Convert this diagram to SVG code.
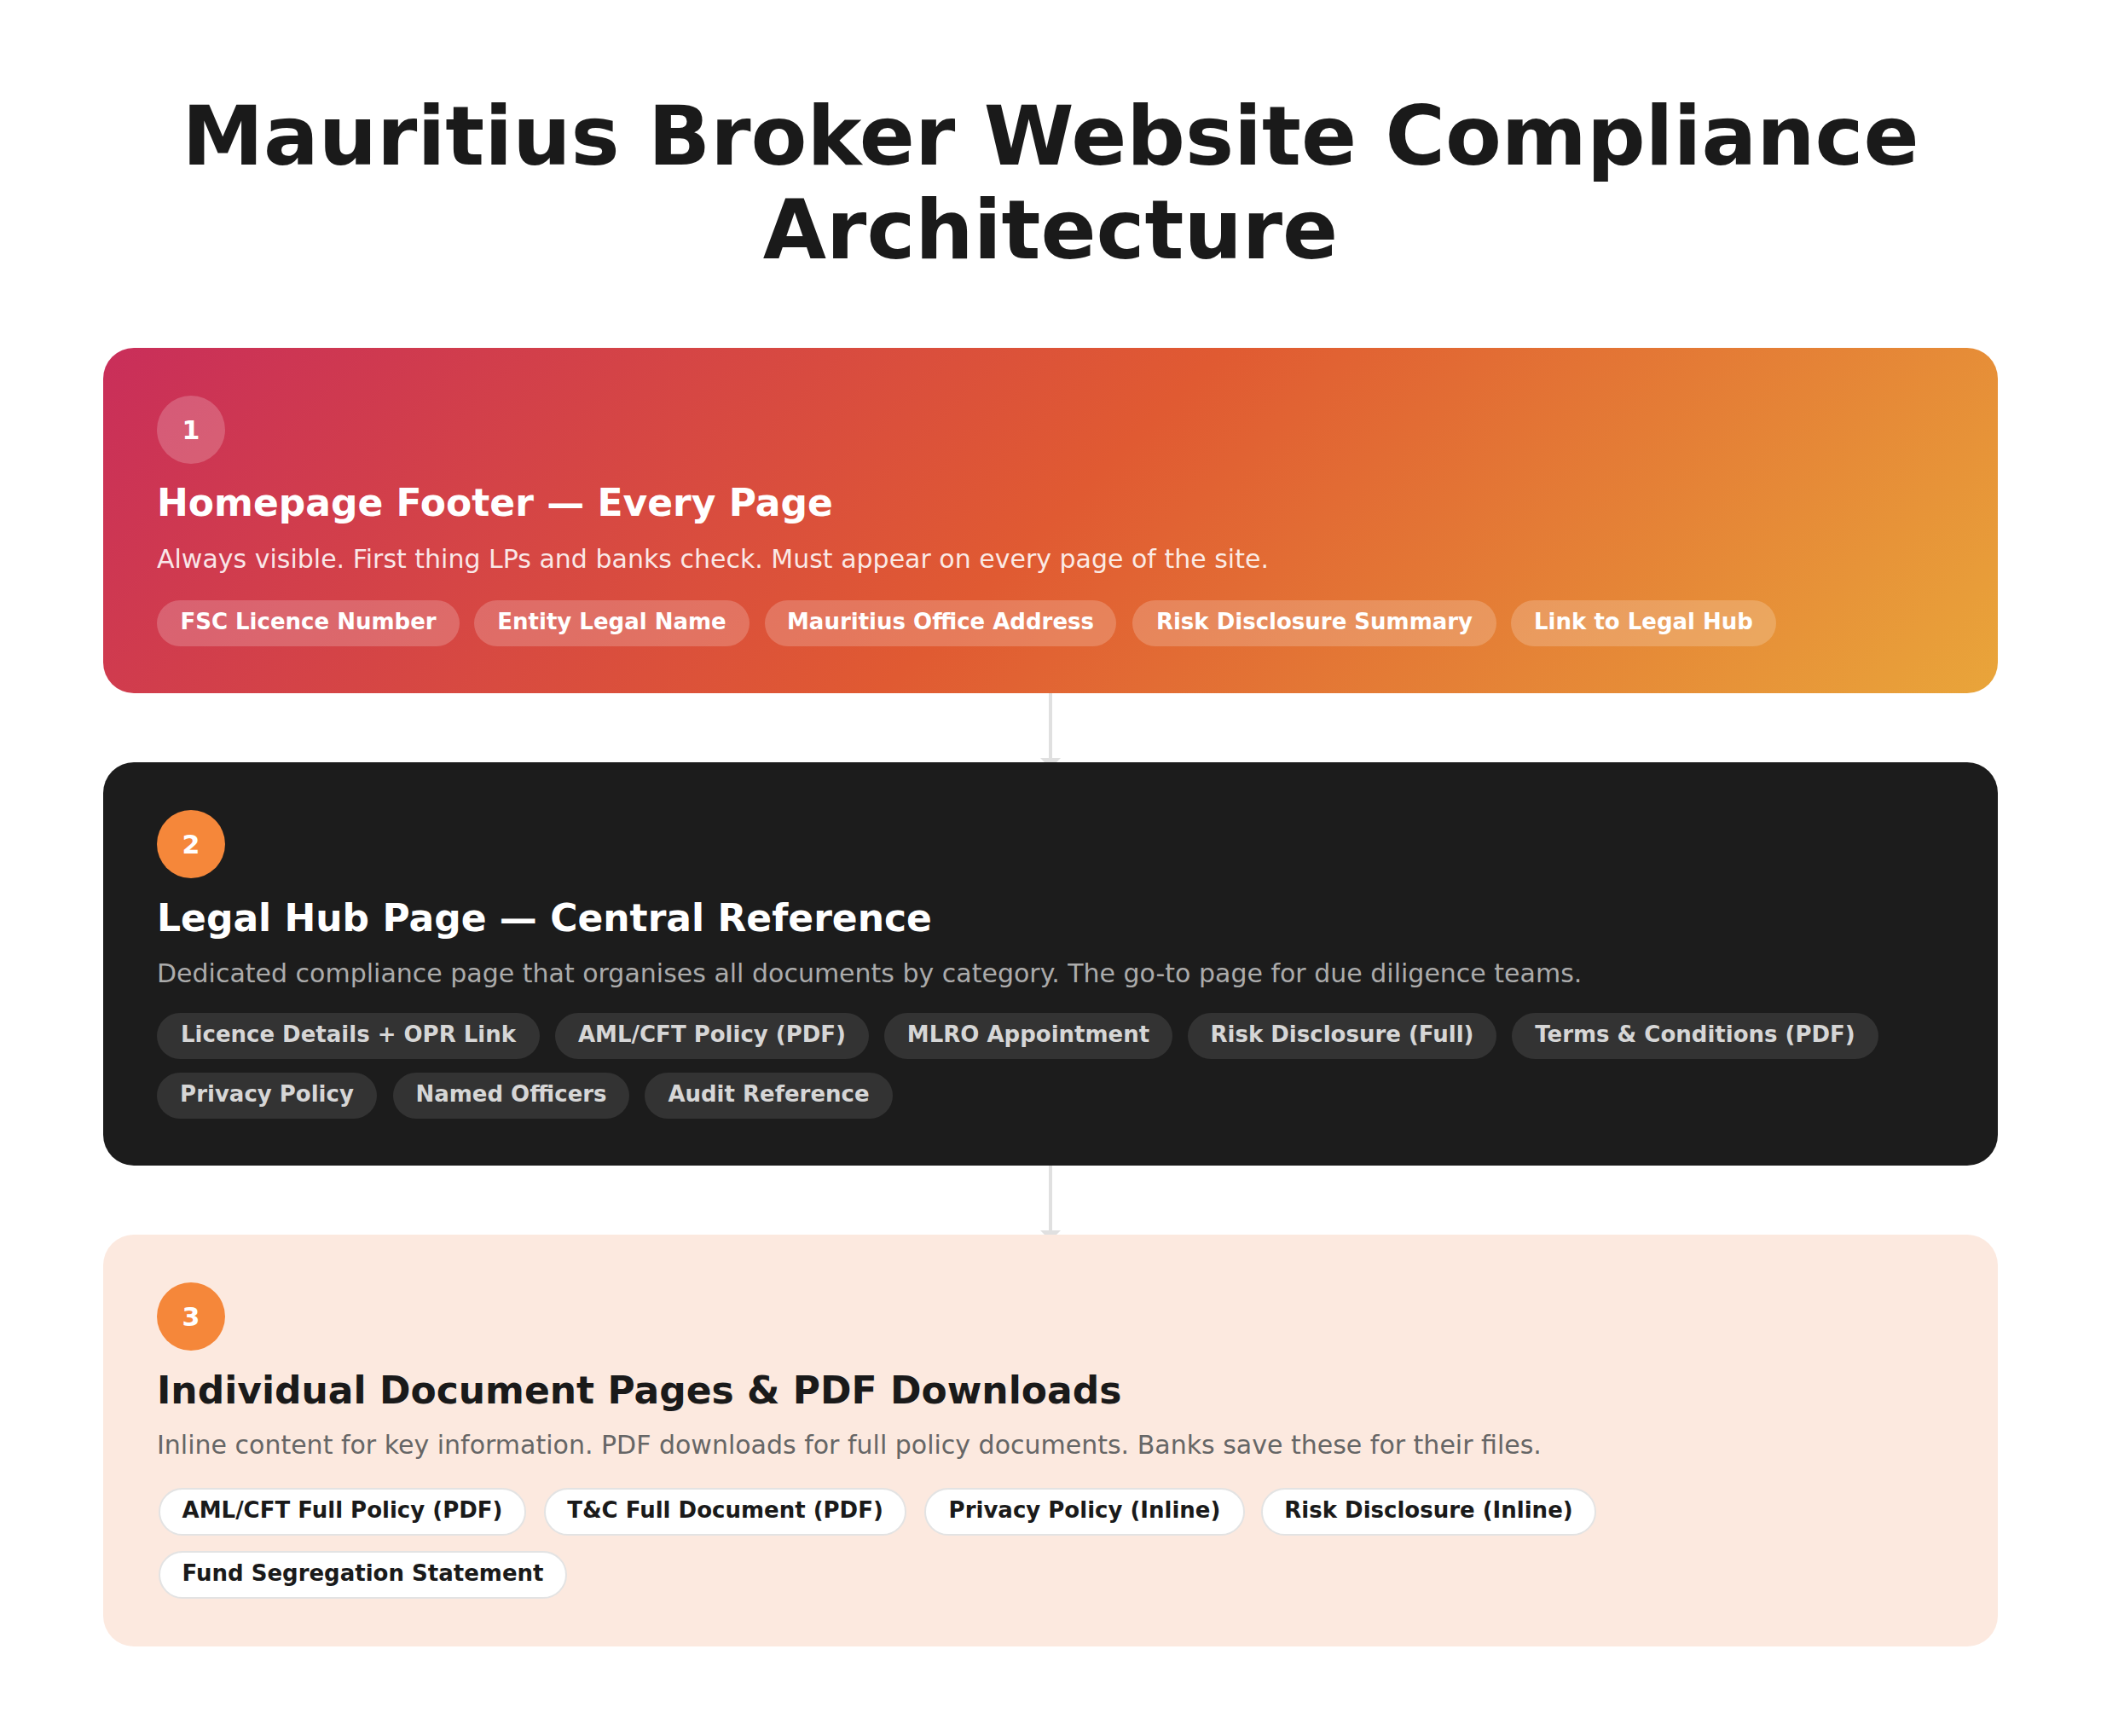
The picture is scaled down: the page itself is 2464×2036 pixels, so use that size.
<svg xmlns="http://www.w3.org/2000/svg" width="2464" height="2036" viewBox="0 0 2464 2036">
<defs>
<linearGradient id="g1" gradientUnits="userSpaceOnUse" x1="575.5" y1="-46.5" x2="1888.5" y2="1266.5">
<stop offset="0" stop-color="#c92e5a"/>
<stop offset="0.5" stop-color="#e05a32"/>
<stop offset="1" stop-color="#e9a53a"/>
</linearGradient>
<marker id="arr" viewBox="0 0 12 24" refX="0" refY="12" markerWidth="12" markerHeight="24" markerUnits="userSpaceOnUse" orient="auto">
<path d="M0 0 L12 12 L0 24 Z" fill="#e0e0e0"/>
</marker>
</defs>
<style>
text{font-family:"DejaVu Sans","Liberation Sans",sans-serif}
.h{font-size:96px;font-weight:bold;fill:#1a1a1a;text-anchor:middle}
.t{font-size:44px;font-weight:bold}
.s{font-size:30px}
.n{font-size:30px;font-weight:bold;fill:#fff;text-anchor:middle}
.p{font-size:26px;font-weight:bold;text-anchor:middle}
.c1 .t,.c2 .t{fill:#fff}
.c1 .s{fill:#fff;fill-opacity:0.88}
.c2 .s{fill:#ababab}
.c3 .t{fill:#1a1a1a}
.c3 .s{fill:#666}
.c1 .pill{fill:#fff;fill-opacity:0.2}
.c1 .p{fill:#fff}
.c2 .pill{fill:#333}
.c2 .p{fill:#d6d6d6}
.c3 .pill{fill:#fff;stroke:#e3e3e3;stroke-width:2}
.c3 .p{fill:#1a1a1a}
.conn{stroke:#e0e0e0;stroke-width:4;fill:none}
</style>
<rect width="2464" height="2036" fill="#fff"/>
<g id="title">
<text class="h" x="1232" y="193">Mauritius Broker Website Compliance</text>
<text class="h" x="1232" y="303">Architecture</text>
</g>
<g id="connectors">
<line class="conn" x1="1232" y1="813" x2="1232" y2="889" marker-end="url(#arr)"/>
<line class="conn" x1="1232" y1="1367" x2="1232" y2="1443" marker-end="url(#arr)"/>
</g>
<g id="card1" class="c1">
<rect x="121" y="408" width="2222" height="405" rx="36" fill="url(#g1)"/>
<circle cx="224" cy="504" r="40" fill="#fff" fill-opacity="0.2"/>
<text class="n" x="224" y="515">1</text>
<text class="t" x="184" y="605">Homepage Footer — Every Page</text>
<text class="s" x="184" y="666">Always visible. First thing LPs and banks check. Must appear on every page of the site.</text>
<rect class="pill" x="184" y="704" width="355" height="54" rx="27"/>
<text class="p" x="361.5" y="738">FSC Licence Number</text>
<rect class="pill" x="556" y="704" width="323" height="54" rx="27"/>
<text class="p" x="717.5" y="738">Entity Legal Name</text>
<rect class="pill" x="897" y="704" width="412" height="54" rx="27"/>
<text class="p" x="1103" y="738">Mauritius Office Address</text>
<rect class="pill" x="1328" y="704" width="427" height="54" rx="27"/>
<text class="p" x="1541.5" y="738">Risk Disclosure Summary</text>
<rect class="pill" x="1772" y="704" width="311" height="54" rx="27"/>
<text class="p" x="1927.5" y="738">Link to Legal Hub</text>
</g>
<g id="card2" class="c2">
<rect x="121" y="894" width="2222" height="473" rx="36" fill="#1c1c1c"/>
<circle cx="224" cy="990" r="40" fill="#f5873a"/>
<text class="n" x="224" y="1001">2</text>
<text class="t" x="184" y="1092">Legal Hub Page — Central Reference</text>
<text class="s" x="184" y="1152">Dedicated compliance page that organises all documents by category. The go-to page for due diligence teams.</text>
<rect class="pill" x="184" y="1188" width="449" height="54" rx="27"/>
<text class="p" x="408.5" y="1222">Licence Details + OPR Link</text>
<rect class="pill" x="651" y="1188" width="368" height="54" rx="27"/>
<text class="p" x="835" y="1222">AML/CFT Policy (PDF)</text>
<rect class="pill" x="1037" y="1188" width="338" height="54" rx="27"/>
<text class="p" x="1206" y="1222">MLRO Appointment</text>
<rect class="pill" x="1393" y="1188" width="362" height="54" rx="27"/>
<text class="p" x="1574" y="1222">Risk Disclosure (Full)</text>
<rect class="pill" x="1773" y="1188" width="430" height="54" rx="27"/>
<text class="p" x="1988" y="1222">Terms &amp; Conditions (PDF)</text>
<rect class="pill" x="184" y="1258" width="258" height="54" rx="27"/>
<text class="p" x="313" y="1292">Privacy Policy</text>
<rect class="pill" x="461" y="1258" width="277" height="54" rx="27"/>
<text class="p" x="599.5" y="1292">Named Officers</text>
<rect class="pill" x="756" y="1258" width="291" height="54" rx="27"/>
<text class="p" x="901.5" y="1292">Audit Reference</text>
</g>
<g id="card3" class="c3">
<rect x="121" y="1448" width="2222" height="483" rx="36" fill="#fce9df"/>
<circle cx="224" cy="1544" r="40" fill="#f5873a"/>
<text class="n" x="224" y="1555">3</text>
<text class="t" x="184" y="1646">Individual Document Pages &amp; PDF Downloads</text>
<text class="s" x="184" y="1705">Inline content for key information. PDF downloads for full policy documents. Banks save these for their files.</text>
<rect class="pill" x="187" y="1746" width="429" height="54" rx="27"/>
<text class="p" x="401.5" y="1780">AML/CFT Full Policy (PDF)</text>
<rect class="pill" x="639" y="1746" width="423" height="54" rx="27"/>
<text class="p" x="850.5" y="1780">T&amp;C Full Document (PDF)</text>
<rect class="pill" x="1085" y="1746" width="374" height="54" rx="27"/>
<text class="p" x="1272" y="1780">Privacy Policy (Inline)</text>
<rect class="pill" x="1480" y="1746" width="391" height="54" rx="27"/>
<text class="p" x="1675.5" y="1780">Risk Disclosure (Inline)</text>
<rect class="pill" x="187" y="1820" width="477" height="54" rx="27"/>
<text class="p" x="425.5" y="1854">Fund Segregation Statement</text>
</g>
</svg>
